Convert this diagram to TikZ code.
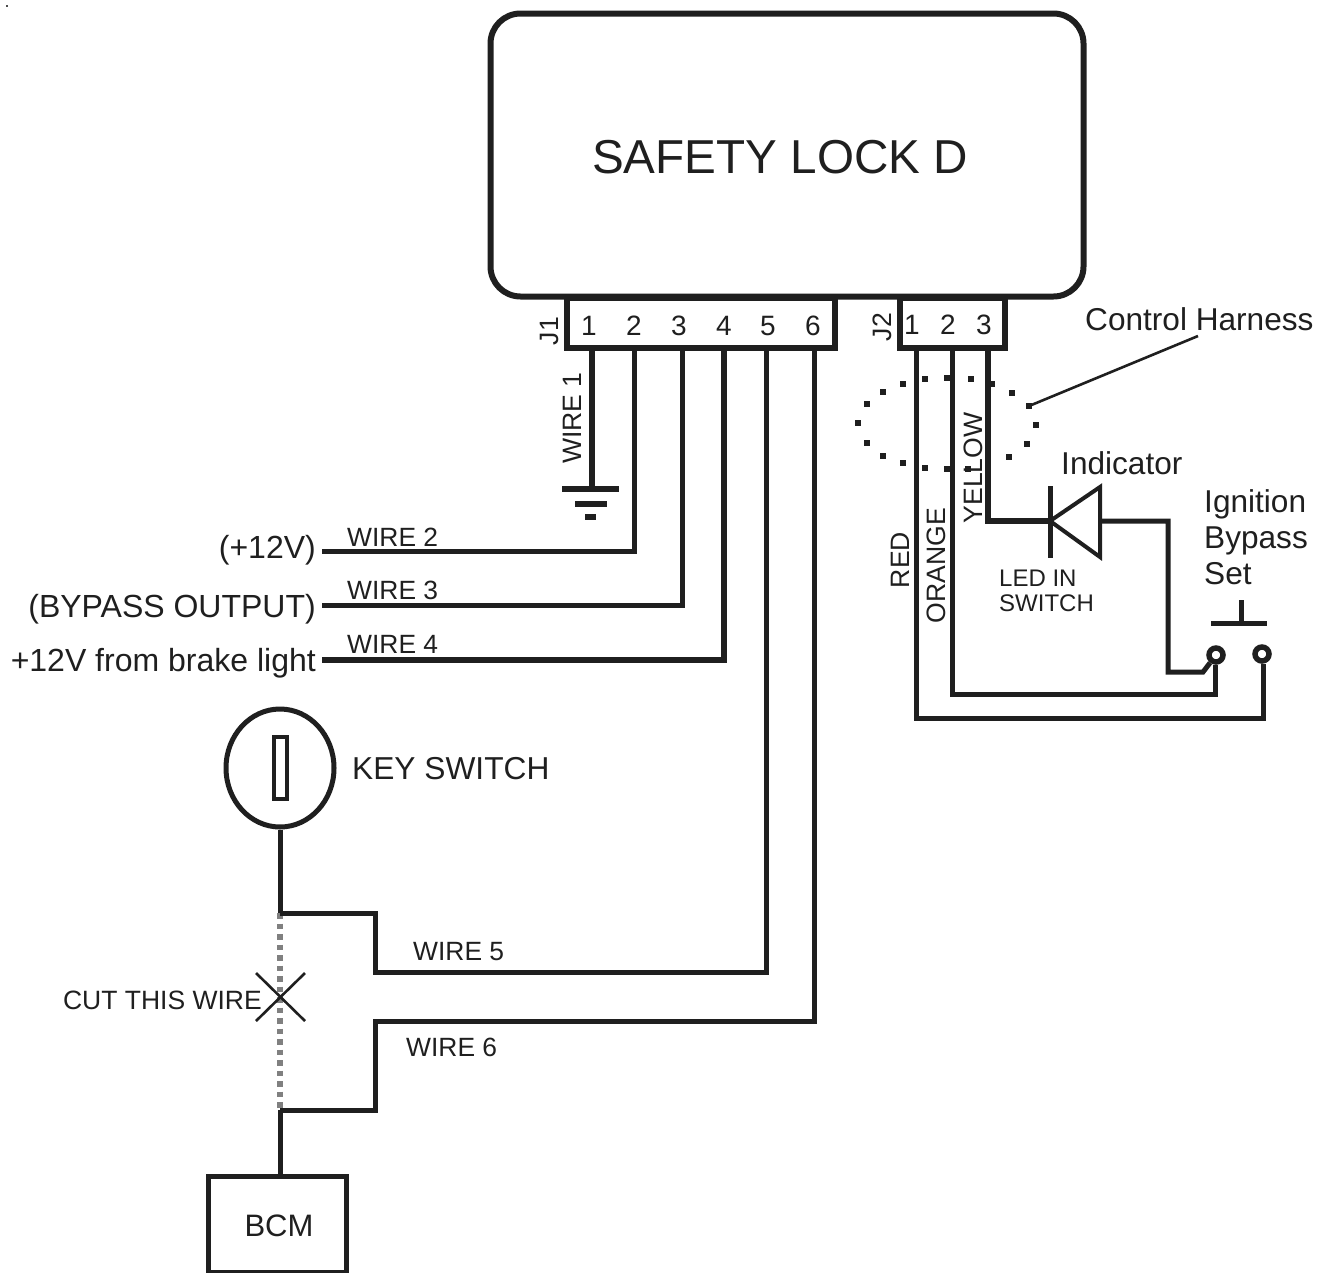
\documentclass[tikz,border=0pt]{standalone}
\usepackage{fontspec}
\setmainfont{Liberation Sans}
\usetikzlibrary{positioning,shapes.geometric}
\tikzset{
	x=1pt,
	y=-1pt,
	every node/.style={inner sep=0pt, text=black!88},
	wire/.style={line width=5pt, color=black!88, line join=miter},
	heavywire/.style={wire, line width=6pt},
	thinwire/.style={line width=2.6pt, color=black!88},
	cutwire/.style={line width=5.5pt, color=black!50, dash pattern=on 5.5pt off 5pt},
	lockbox/.style={draw=black!88, line width=6pt, fill=white, rounded corners=30pt, minimum width=593pt, minimum height=283pt},
	pinbox/.style={draw=black!88, line width=6pt, fill=white, minimum height=50pt},
	contact/.style={circle, draw=black!88, line width=5.5pt, fill=white, minimum size=14pt},
	wirelabel/.style={font=\fontsize{26.4}{30}\selectfont},
	sidelabel/.style={font=\fontsize{26.6}{30}\selectfont, rotate=90},
	sourcelabel/.style={font=\fontsize{32}{36}\selectfont, anchor=base east},
	pinlabel/.style={font=\fontsize{28}{32}\selectfont},
	notelabel/.style={font=\fontsize{31.6}{36}\selectfont, anchor=base west},
}
\begin{document}
\begin{tikzpicture}
	\useasboundingbox (0,0) rectangle (1329,1272);
	\fill[black!70] (6,5) rectangle +(2,2);

	\node[lockbox] (lock) at (787,155) {};
	\node[font=\fontsize{47.6}{54}\selectfont] at (780,157) {SAFETY LOCK D};

	\node[pinbox, minimum width=268pt] (j1) at (701,323) {};
	\node[pinbox, minimum width=105pt] (j2) at (952.5,323) {};
	\node[sidelabel] at (549,331) {J1};
	\node[sidelabel] at (882,327) {J2};

	\foreach \n/\x in {1/589,2/634,3/679,4/724,5/768,6/813}
		\node[pinlabel] at (\x,326) {\n};
	\foreach \n/\x in {1/912,2/948,3/984}
		\node[pinlabel] at (\x,325) {\n};

	% pins along the connectors
	\foreach \n/\x in {1/592,2/634,3/682,4/724,5/766,6/814}
		\coordinate (a\n) at (\x,350);
	\foreach \n/\x in {1/916,2/952,3/988}
		\coordinate (b\n) at (\x,350);

	% ground
	\coordinate (gnd) at (592,489);
	\draw[heavywire] (a1) -- (gnd);
	\draw[heavywire] (562,489) -- (619,489);
	\draw[heavywire] (575,504) -- (607,504);
	\draw[heavywire] (585,517) -- (596,517);
	\node[sidelabel] at (572,418) {WIRE 1};

	\coordinate (w2) at (322,551.5);
	\coordinate (w3) at (322,605.5);
	\coordinate (w4) at (322,659.5);
	\draw[wire] (a2) |- (w2);
	\draw[wire] (a3) |- (w3);
	\draw[heavywire] (a4) |- (w4);
	\node[wirelabel, anchor=base west] at (347,546) {WIRE 2};
	\node[wirelabel, anchor=base west] at (347,599) {WIRE 3};
	\node[wirelabel, anchor=base west] at (347,653) {WIRE 4};
	\node[sourcelabel] at (316,558) {(+12V)};
	\node[sourcelabel] at (316,617) {(BYPASS OUTPUT)};
	\node[sourcelabel] at (316,671) {+12V from brake light};

	% key switch and BCM
	\node[ellipse, draw=black!88, line width=5pt, minimum width=108pt, minimum height=118pt] (key) at (280,768) {};
	\node[draw=black!88, line width=4pt, minimum width=13pt, minimum height=62pt] (slot) at (280,768) {};
	\node[font=\fontsize{31.7}{36}\selectfont, anchor=base west] at (352,779) {KEY SWITCH};
	\node[draw=black!88, line width=5pt, minimum width=138pt, minimum height=95.5pt] (bcm) at (277,1224.25) {};
	\node[font=\fontsize{31}{34}\selectfont] at (279,1226) {BCM};

	\coordinate (top) at (280,913);
	\coordinate (bottom) at (280,1110);
	\coordinate (cut) at (280,997);
	\draw[cutwire] (top) -- (bottom);
	\draw[wire] (key.south) -- (top);
	\draw[wire] (bottom) -- (bcm.north -| bottom);
	\draw[wire] (a5) |- (375,972) |- (top);
	\draw[wire] (a6) |- (375,1021) |- (bottom);
	\draw[thinwire] (256,973) -- (305,1021);
	\draw[thinwire] (256,1021) -- (305,973);
	\node[font=\fontsize{26.5}{30}\selectfont, anchor=base east] at (262,1009) {CUT THIS WIRE};
	\node[wirelabel, anchor=base west] at (413,960) {WIRE 5};
	\node[wirelabel, anchor=base west] at (406,1056) {WIRE 6};

	% harness
	\coordinate (tip) at (1029,406);
	\coordinate (lead) at (1198,336);
	\draw[thinwire] (lead) -- (tip);
	\node[notelabel] at (1085,330) {Control Harness};

	\node[contact] (s1) at (1216,655) {};
	\node[contact] (s2) at (1262,654) {};
	\draw[wire] (b1) |- (1263,718) -- (s2.south -| 1263,0);
	\draw[wire] (b2) |- (1215,694) -- (s1.south -| 1215,0);
	\foreach \x/\y in {858/423,867/404,883/392,903/384,925/379,947/378,971/379,992/384,1012/393,1029/406,1036/425,1027/444,1009/457,988/464,968/469,947/469,925/468,903/463,883/456,867/443}
		\fill[black!88] (\x-2.7,\y-2.7) rectangle +(5.4,5.4);
	\node[sidelabel] at (900,560) {RED};
	\node[sidelabel] at (936,565.5) {ORANGE};
	\node[sidelabel] at (973,468) {YELLOW};

	% indicator
	\coordinate (cath) at (1050,521);
	\coordinate (anode) at (1100,521);
	\draw[heavywire] (b3) |- (cath);
	\draw[wire] (1050,486) -- (1050,558);
	\draw[wire, line width=4pt] (cath) -- (1100,487) -- (1100,557) -- cycle;
	\draw[wire] (anode) -| (1168,672) -- (1203,672) -- (s1);
	\node[notelabel] at (1061,474) {Indicator};
	\node[font=\fontsize{24}{25}\selectfont, anchor=base west] at (999,586) {LED IN};
	\node[font=\fontsize{24}{25}\selectfont, anchor=base west] at (999,611) {SWITCH};

	% bypass switch
	\draw[wire] (1211,623) -- (1267,623);
	\draw[wire] (1241,600) -- (1241,623);
	\node[notelabel] at (1204,512) {Ignition};
	\node[notelabel] at (1204,548) {Bypass};
	\node[notelabel] at (1204,584) {Set};
\end{tikzpicture}
\end{document}
